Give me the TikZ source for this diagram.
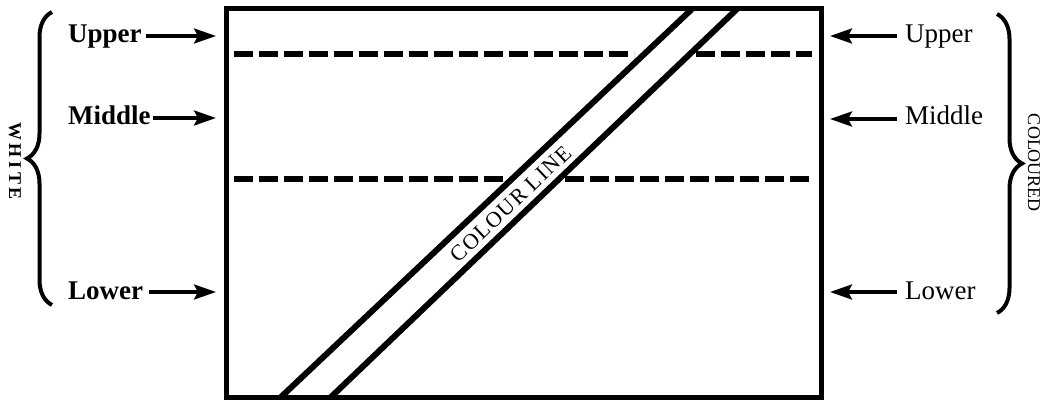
\documentclass[tikz,border=0pt]{standalone}
\usepackage{fontspec}
\setmainfont{Liberation Serif}
\usetikzlibrary{arrows.meta,decorations.pathreplacing}
\begin{document}
\begin{tikzpicture}[x=1pt,y=-1pt,
  frame/.style={line width=5pt},
  dashline/.style={line width=5.5pt, dash pattern=on 19pt off 6pt},
  bandline/.style={line width=6pt},
  arr/.style={line width=3.5pt, -{Stealth[length=22pt,width=15pt,inset=4pt]}},
  llab/.style={font=\fontsize{27}{27}\selectfont\bfseries, anchor=base west, inner sep=0pt},
  rlab/.style={font=\fontsize{27}{27}\selectfont, anchor=base west, inner sep=0pt},
  brc/.style={line width=4pt, decorate, decoration={brace, amplitude=25pt}},
  side/.style={inner sep=0pt, rotate=-90}
]
\useasboundingbox (0,0) rectangle (1043,403);
% frame corners
\coordinate (tl) at (226,9);
\coordinate (br) at (821,397);
% dashed lines, interrupted by the colour band
\coordinate (d1a) at (234,54);  \coordinate (d1b) at (634,54);
\coordinate (d1c) at (696,54);  \coordinate (d1d) at (812,54);
\coordinate (d2a) at (234,179); \coordinate (d2b) at (506,179);
\coordinate (d2c) at (565,179); \coordinate (d2d) at (812,179);
\draw[dashline] (d1a) -- (d1b);
\draw[dashline] (d1c) -- (d1d);
\draw[dashline] (d2a) -- (d2b);
\draw[dashline] (d2c) -- (d2d);
% colour band
\coordinate (b1) at (281,397); \coordinate (t1) at (692,9);
\coordinate (b2) at (331,397); \coordinate (t2) at (737,9);
\draw[bandline] (b1) -- (t1);
\draw[bandline] (b2) -- (t2);
\draw[frame] (tl) rectangle (br);
\node[inner sep=0pt, rotate=43.5, font=\fontsize{22}{22}\selectfont\addfontfeatures{LetterSpace=6}] (cl) at (511,204) {COLOUR LINE};
% left labels
\node[llab] (lu) at (68,43) {Upper};
\node[llab] (lm) at (68,125) {Middle};
\node[llab] (ll) at (68,299) {Lower};
\coordinate (lue) at (216,36);
\coordinate (lme) at (216,118);
\coordinate (lle) at (216,292);
\draw[arr, shorten <=4pt] (lu.east |- lue) -- (lue);
\draw[arr, shorten <=2pt] (lm.east |- lme) -- (lme);
\draw[arr, shorten <=6pt] (ll.east |- lle) -- (lle);
% right labels
\node[rlab] (ru) at (905,43) {Upper};
\node[rlab] (rm) at (905,125) {Middle};
\node[rlab] (rl) at (905,299) {Lower};
\coordinate (rue) at (830,36);
\coordinate (rme) at (830,119);
\coordinate (rle) at (830,292);
\draw[arr, shorten <=8pt] (ru.west |- rue) -- (rue);
\draw[arr, shorten <=8pt] (rm.west |- rme) -- (rme);
\draw[arr, shorten <=8pt] (rl.west |- rle) -- (rle);
% braces
\coordinate (lbt) at (52,12);  \coordinate (lbb) at (52,305);
\coordinate (rbt) at (997,14); \coordinate (rbb) at (997,313);
\draw[brc] (lbb) -- (lbt);
\draw[brc] (rbt) -- (rbb);
\node[side, font=\fontsize{18}{18}\selectfont\bfseries\addfontfeatures{LetterSpace=20}] (white) at (15,161) {WHITE};
\node[side, font=\fontsize{18}{18}\selectfont] (col) at (1034,163) {COLOURED};
\end{tikzpicture}
\end{document}
